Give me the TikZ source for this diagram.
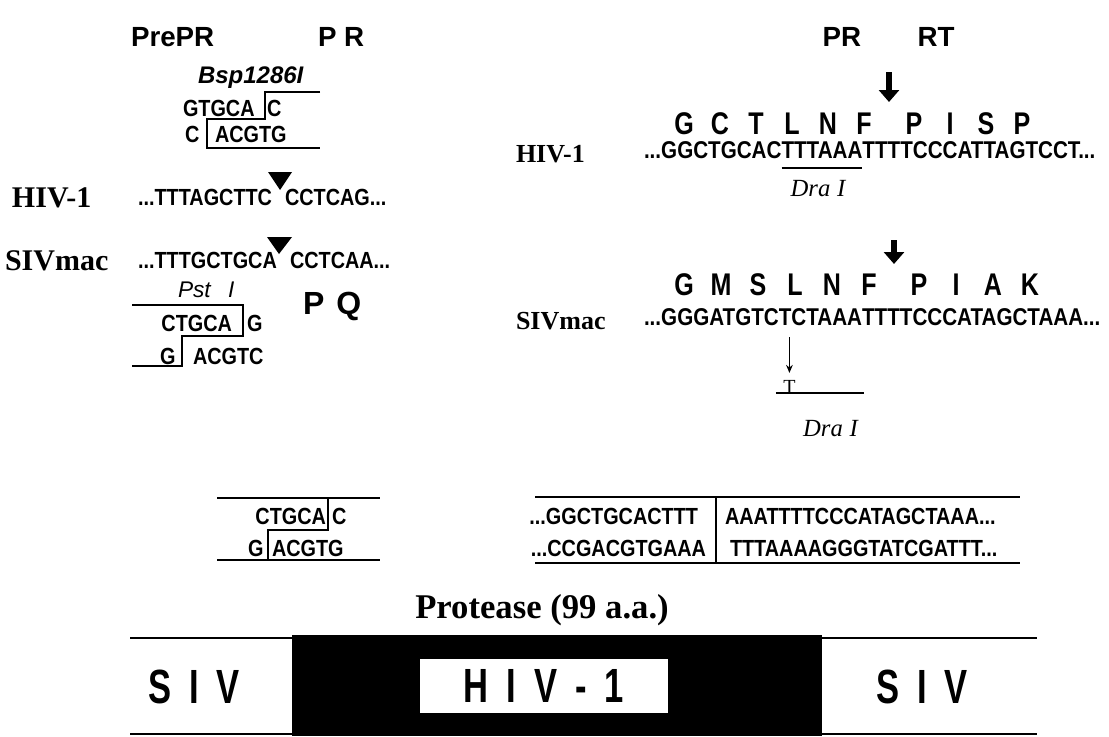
\documentclass[tikz,border=0pt]{standalone}
\usepackage{fontspec}
\setmainfont{Liberation Serif}
\setsansfont{Liberation Sans}
\newfontfamily\seqf[FakeStretch=0.85]{Liberation Sans}
\newfontfamily\aaf[FakeStretch=0.8]{Liberation Sans}
\newfontfamily\sivf[FakeStretch=0.72]{Liberation Sans}
\newcommand\wsp{\spaceskip=13.5pt\relax}
\usetikzlibrary{arrows.meta,calc}
\tikzset{
  every node/.style={inner sep=0pt, outer sep=0pt},
  seq/.style={anchor=base west, font=\seqf\bfseries\fontsize{17.5}{20}\selectfont},
  seqr/.style={anchor=base west, font=\seqf\bfseries\fontsize{18.2}{20}\selectfont},
  head/.style={anchor=base west, font=\sffamily\bfseries\fontsize{20.8}{24}\selectfont},
  headbig/.style={anchor=base west, font=\sffamily\bfseries\fontsize{24}{28}\selectfont},
  lab/.style={anchor=base west, font=\rmfamily\bfseries\fontsize{22.5}{26}\selectfont},
  labr/.style={anchor=base west, font=\rmfamily\bfseries\fontsize{19.5}{22}\selectfont},
  enz/.style={anchor=base west, font=\sffamily\bfseries\itshape\fontsize{18}{20}\selectfont},
  pst/.style={anchor=base west, font=\sffamily\itshape\fontsize{17}{20}\selectfont},
  dra/.style={anchor=base, font=\rmfamily\itshape\fontsize{18.5}{20}\selectfont},
  aa/.style={anchor=base, font=\aaf\bfseries\fontsize{23.5}{26}\selectfont},
  prot/.style={anchor=base, font=\rmfamily\bfseries\fontsize{26}{30}\selectfont},
  big/.style={anchor=base, font=\sivf\bfseries\fontsize{36}{40}\selectfont},
  tmark/.style={anchor=base, font=\rmfamily\fontsize{15}{16}\selectfont},
  rule/.style={line width=1.1pt},
  fat/.style={line width=4.5pt, -{Triangle[length=9pt,width=15pt]}},
  thin/.style={line width=0.9pt, -{Stealth[length=6pt,width=5pt]}}
}
\begin{document}
\begin{tikzpicture}[x=0.75pt,y=-0.75pt]
\useasboundingbox (0,0) rectangle (1109,736);

% ---------- top left ----------
\node[head] (prepr) at (131,46) {PrePR};
\node[head] (pr1) at (318,46) {P R};
\node[head, anchor=base] (pr2) at (842,46) {PR};
\node[head, anchor=base] (rt) at (936,46) {RT};

\node[enz] (bsp) at (198,83) {Bsp1286I};
\node[seq] (b1) at (183,116) {GTGCA};
\node[seq] (b2) at (267,116) {C};
\node[seq] (b3) at (185,142) {C};
\node[seq] (b4) at (215,142) {ACGTG};
\draw[rule] (320,92) -- (265,92) -- (265,119) -- (207,119) -- (207,148) -- (320,148);

\node[lab] (lhiv) at (12,207) {HIV-1};
\node[seq] (hl1) at (138,205) {...TTTAGCTTC};
\node[seq] (hl2) at (285,205) {CCTCAG...};
\fill (268,172) -- (292,172) -- (280,190) -- cycle;

\node[lab] (lsiv) at (5,270) {SIVmac};
\node[seq] (sl1) at (138,268) {...TTTGCTGCA};
\node[seq] (sl2) at (290,268) {CCTCAA...};
\fill (267,237) -- (292,237) -- (279,254) -- cycle;

\node[pst] (pst) at (178,297) {Pst\hspace{13pt}I};
\node[headbig] (pq) at (303,314) {P\hspace{9pt}Q};
\draw[rule] (132,305) -- (243,305) -- (243,336) -- (182,336) -- (182,366) -- (132,366);
\node[seq, anchor=base east] (p1) at (232,331) {CTGCA};
\node[seq] (p2) at (247,331) {G};
\node[seq] (p3) at (160,364) {G};
\node[seq] (p4) at (193,364) {ACGTC};

% ---------- middle left ----------
\draw[rule] (217,498) -- (380,498);
\draw[rule] (217,560) -- (380,560);
\draw[rule] (328,498) -- (328,530) -- (268,530) -- (268,560);
\node[seq, anchor=base east] (m1) at (326,524) {CTGCA};
\node[seq] (m2) at (332,524) {C};
\node[seq] (m3) at (248,556) {G};
\node[seq] (m4) at (272,556) {ACGTG};

% ---------- middle right ----------
\draw[rule] (535,497) -- (1020,497);
\draw[rule] (535,563) -- (1020,563);
\draw[rule] (716,497) -- (716,563);
\node[seq, anchor=base east] (r1) at (698,524) {...GGCTGCACTTT};
\node[seq, anchor=base east] (r2) at (706,556) {...CCGACGTGAAA};
\node[seq] (r3) at (725,524) {AAATTTTCCCATAGCTAAA...};
\node[seq] (r4) at (730,556) {TTTAAAAGGGTATCGATTT...};

% ---------- top right: HIV-1 ----------
\coordinate (fa1) at (889,72);
\coordinate (fb1) at (889,102);
\draw[fat] (fa1) -- (fb1);
\foreach \l/\x [count=\i] in {G/684,C/720,T/756,L/792,N/828,F/864,P/914,I/950,S/986,P/1022}
  \node[aa] (ha\i) at (\x,134) {\l};
\node[labr] (rhiv) at (516,162) {HIV-1};
\node[seqr] (h1) at (644,158) {...GGCTGCAC};
\node[seqr] (h2) at (h1.base east) {TTTAAA};
\node[seqr] (h3) at (h2.base east) {TTTTCCCATTAGTCCT...};
\draw[line width=1.4pt] ($(h2.base west)+(0,10)$) -- ($(h2.base east)+(0,10)$);
\node[dra] (dra1) at ($(h2.base)+(-4,38)$) {Dra\hspace{5pt}I};

% ---------- SIVmac ----------
\coordinate (fa2) at (894,240);
\coordinate (fb2) at (894,264);
\draw[fat] (fa2) -- (fb2);
\foreach \l/\x [count=\i] in {G/684,M/721,S/758,L/795,N/832,F/869,P/919,I/956,A/993,K/1030}
  \node[aa] (sa\i) at (\x,295) {\l};
\node[labr] (rsiv) at (516,329) {SIVmac};
\node[seqr] (s1) at (644,325) {...GGGATGTC};
\node[seqr] (s2) at (s1.base east) {T};
\node[seqr] (s3) at (s2.base east) {C};
\node[seqr] (s4) at (s3.base east) {TAAA};
\node[seqr] (s5) at (s4.base east) {TTTTCCCATAGCTAAA...};
\coordinate (cut) at ($(s2.base east)+(-2,0)$);
\node[tmark] (tm) at ($(cut)+(0,68)$) {T};
\draw[line width=1.5pt] ($(s2.base west)+(-3,68)$) -- ($(s4.base east)+(2,68)$);
\draw[thin] ($(cut)+(0,12)$) -- ($(tm.north)+(0,-7)$);
\node[dra] (dra2) at ($(s3.base)!0.5!(s4.base east)+(0,111)$) {Dra\hspace{5pt}I};

% ---------- bottom ----------
\node[prot] (prot) at (542,618) {Protease (99 a.a.)};
\draw[line width=1pt] (130,638) -- (1037,638);
\draw[line width=1pt] (130,734) -- (1037,734);
\fill (292,635) rectangle (822,736);
\fill[white] (420,659) rectangle (668,713);
\node[big] (siv1) at (194,703) {\wsp S I V};
\node[big] (hivb) at (544,702) {\wsp H I V - 1};
\node[big] (siv2) at (922,703) {\wsp S I V};
\end{tikzpicture}
\end{document}
